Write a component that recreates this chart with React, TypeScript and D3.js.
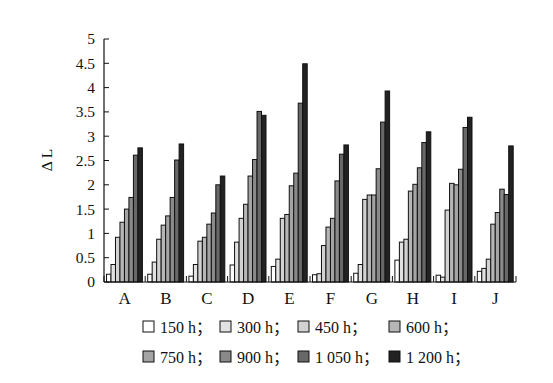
import React from "react";
import * as d3 from "d3";

const categories = ["A", "B", "C", "D", "E", "F", "G", "H", "I", "J"];
const seriesNames = ["150 h", "300 h", "450 h", "600 h", "750 h", "900 h", "1 050 h", "1 200 h"];
const seriesColors = ["#ffffff", "#e2e2e2", "#d2d2d2", "#b6b6b6", "#a4a4a4", "#8a8a8a", "#686868", "#222222"];
const h150 = [0.16, 0.16, 0.12, 0.35, 0.32, 0.15, 0.18, 0.45, 0.14, 0.22];
const h300 = [0.36, 0.41, 0.36, 0.82, 0.47, 0.17, 0.36, 0.82, 0.10, 0.28];
const h450 = [0.92, 0.88, 0.84, 1.31, 1.31, 0.75, 1.70, 0.88, 1.48, 0.47];
const h600 = [1.23, 1.17, 0.92, 1.60, 1.39, 1.13, 1.79, 1.87, 2.03, 1.19];
const h750 = [1.50, 1.36, 1.19, 2.18, 1.98, 1.31, 1.79, 2.01, 2.00, 1.43];
const h900 = [1.74, 1.74, 1.42, 2.52, 2.24, 2.08, 2.33, 2.35, 2.32, 1.91];
const h1050 = [2.61, 2.51, 2.00, 3.51, 3.68, 2.63, 3.29, 2.87, 3.18, 1.80];
const h1200 = [2.76, 2.84, 2.18, 3.43, 4.49, 2.82, 3.93, 3.09, 3.39, 2.80];
const seriesValues = [h150, h300, h450, h600, h750, h900, h1050, h1200];
const yTicks = [0, 0.5, 1, 1.5, 2, 2.5, 3, 3.5, 4, 4.5, 5];

const FONT = "'Liberation Serif', 'DejaVu Serif', serif";
const CJK = "'Noto Sans CJK SC', 'Liberation Serif', serif";

export default function App() {
  const W = 553, H = 383;
  const x0 = 104, x1 = 516, yTop = 39, yBot = 282;
  const x = d3.scaleBand<string>().domain(categories).range([x0, x1]).paddingInner(0).paddingOuter(0);
  const xs = d3.scaleBand<number>().domain(d3.range(seriesNames.length)).range([2.5, x.bandwidth() - 2.8]);
  const y = d3.scaleLinear().domain([0, 5]).range([yBot, yTop]);

  const legendX = [143, 220, 298, 389];
  const legendY = [327, 357];

  return (
    <svg width={W} height={H} style={{ position: "absolute", left: 0, top: 0, background: "#fff" }}>
      {categories.map((c, ci) => (
        <g key={c}>
          {seriesValues.map((vals, si) => {
            const bx = (x(c) as number) + (xs(si) as number);
            const by = y(vals[ci]);
            return (
              <rect key={si} x={bx} y={by} width={xs.bandwidth()} height={yBot - by}
                fill={seriesColors[si]} stroke="#111" strokeWidth={1} />
            );
          })}
        </g>
      ))}
      <line x1={x0} x2={x0} y1={yTop} y2={yBot} stroke="#111" strokeWidth={1.2} />
      <line x1={x0} x2={x1} y1={yBot} y2={yBot} stroke="#111" strokeWidth={1.2} />
      {yTicks.map((t) => (
        <g key={t}>
          <line x1={x0} x2={x0 + 5} y1={y(t)} y2={y(t)} stroke="#111" strokeWidth={1} />
          <text x={95} y={y(t)} dy="0.35em" textAnchor="end" fontFamily={FONT} fontSize={15.5} fill="#111">{t}</text>
        </g>
      ))}
      {categories.concat(["end"]).map((c, i) => {
        const tx = x0 + i * x.bandwidth();
        return <line key={"t" + i} x1={tx} x2={tx} y1={yBot} y2={yBot - 6} stroke="#111" strokeWidth={1} />;
      })}
      {categories.map((c) => (
        <text key={"l" + c} x={(x(c) as number) + x.bandwidth() / 2} y={304} textAnchor="middle" fontFamily={FONT} fontSize={17} fill="#111">{c}</text>
      ))}
      <text transform={`translate(52,160) rotate(-90)`} textAnchor="middle" fontFamily={FONT} fontSize={15.5} fill="#111">Δ L</text>
      {seriesNames.map((n, i) => {
        const lx = legendX[i % 4];
        const ly = legendY[Math.floor(i / 4)];
        return (
          <g key={n}>
            <rect x={lx} y={ly - 6} width={11} height={11} fill={seriesColors[i]} stroke="#111" strokeWidth={1} />
            <text x={lx + 17} y={ly} dy="0.35em" fontFamily={FONT} fontSize={16} fill="#111">{n}<tspan fontFamily={CJK}>；</tspan></text>
          </g>
        );
      })}
    </svg>
  );
}
